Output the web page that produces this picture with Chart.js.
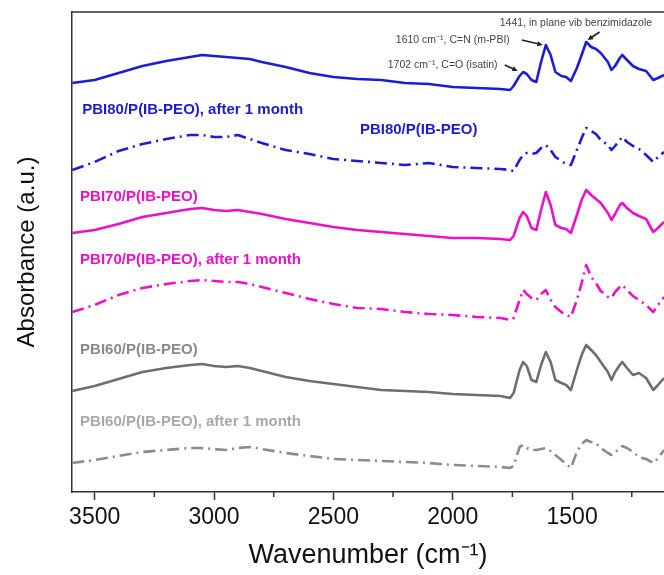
<!DOCTYPE html>
<html>
<head>
<meta charset="utf-8">
<script src="https://cdn.jsdelivr.net/npm/chart.js@4/dist/chart.umd.min.js"></script>
<style>
  body { margin: 0; background: #fff; }
  #wrap { width: 664px; height: 575px; position: relative; }
</style>
</head>
<body>
<div id="wrap"><canvas id="ftirChart"></canvas></div>
<script>
// wavenumbers (cm-1), shared by all six spectra
const wavenumbers = [3594, 3500, 3400, 3300, 3200, 3100, 3050, 3000, 2950, 2900,
  2850, 2800, 2700, 2600, 2500, 2400, 2300, 2200, 2100, 2000,
  1900, 1800, 1760, 1745, 1720, 1705, 1690, 1670, 1650, 1630,
  1610, 1590, 1570, 1545, 1525, 1505, 1480, 1460, 1441, 1420,
  1400, 1380, 1350, 1335, 1320, 1300, 1290, 1270, 1245, 1220,
  1190, 1160, 1140, 1115];

// absorbance (a.u., stacked)
const pbi80 = [409, 412, 419, 426, 431, 435, 437, 436, 435, 434,
  433, 430, 425, 419, 415, 413, 412, 409, 408, 405,
  404, 403, 402, 406, 416, 420, 418, 412, 410, 430,
  447, 437, 420, 416, 415, 411, 424, 437, 450, 445,
  443, 439, 430, 422, 426, 434, 437, 432, 426, 423,
  421, 412, 414, 417];
const pbi80Aged = [322, 330, 341, 348, 353, 357, 357, 355, 355, 357,
  353, 349, 342, 338, 333, 331, 329, 327, 329, 325,
  324, 323, 322, 321, 332, 337, 339, 338, 339, 344,
  347, 342, 335, 331, 328, 327, 342, 354, 364, 361,
  358, 352, 347, 342, 346, 352, 355, 350, 346, 343,
  337, 330, 335, 340];
const pbi70 = [259, 262, 268, 275, 279, 283, 284, 282, 281, 282,
  280, 278, 273, 269, 265, 262, 260, 258, 256, 254,
  254, 253, 252, 256, 274, 280, 276, 264, 262, 282,
  300, 287, 267, 264, 263, 259, 277, 292, 302, 297,
  293, 289, 279, 272, 278, 287, 289, 284, 279, 276,
  273, 260, 264, 270];
const pbi70Aged = [180, 187, 197, 204, 208, 211, 212, 211, 210, 210,
  208, 205, 199, 193, 188, 184, 183, 180, 178, 177,
  175, 174, 172, 174, 192, 202, 198, 194, 192, 198,
  202, 192, 185, 180, 177, 175, 192, 209, 227, 215,
  209, 201, 195, 194, 200, 205, 207, 202, 196, 192,
  187, 180, 187, 195];
const pbi60 = [101, 106, 113, 120, 124, 127, 128, 126, 125, 126,
  124, 121, 115, 111, 108, 105, 102, 101, 100, 98,
  97, 96, 94, 99, 122, 130, 126, 112, 110, 127,
  140, 130, 112, 109, 107, 102, 122, 137, 147, 142,
  137, 130, 120, 112, 120, 127, 130, 124, 117, 119,
  114, 102, 107, 114];
const pbi60Aged = [29, 32, 36, 40, 42, 44, 44, 43, 42, 44,
  45, 43, 39, 36, 33, 32, 31, 30, 29, 27,
  26, 25, 24, 26, 45, 47, 44, 42, 42, 43,
  44, 41, 37, 32, 28, 24, 40, 48, 52, 50,
  49, 44, 39, 37, 40, 43, 46, 44, 40, 35,
  33, 29, 34, 42];

const seriesNames = ['PBI80/P(IB-PEO)', 'PBI80/P(IB-PEO), after 1 month',
  'PBI70/P(IB-PEO)', 'PBI70/P(IB-PEO), after 1 month',
  'PBI60/P(IB-PEO)', 'PBI60/P(IB-PEO), after 1 month'];
const seriesValues = [pbi80, pbi80Aged, pbi70, pbi70Aged, pbi60, pbi60Aged];

const majorTicks = [3500, 3000, 2500, 2000, 1500];
const minorTicks = [3250, 2750, 2250, 1750, 1250];

const BLUE = '#1c1cd8';
const MAGENTA = '#ee10c8';
const GREY = '#6e6e6e';
const LIGHTGREY = '#8c8c8c';
const colors = [BLUE, BLUE, MAGENTA, MAGENTA, GREY, LIGHTGREY];
const dashDot = [12, 5, 2, 5];

// series captions, anchored in data units (wavenumber, a.u.)
const captions = [
  { text: seriesNames[1], x: 3552, y: 382, color: BLUE },
  { text: seriesNames[0], x: 2389, y: 362, color: BLUE },
  { text: seriesNames[2], x: 3561, y: 295, color: MAGENTA },
  { text: seriesNames[3], x: 3561, y: 232, color: MAGENTA },
  { text: seriesNames[4], x: 3561, y: 142, color: '#8a8a8a' },
  { text: seriesNames[5], x: 3561, y: 70, color: '#a8a8a8' },
];
const notes = [
  { text: '1441, in plane vib benzimidazole', x: 1803, y: 469, align: 'left' },
  { text: '1610 cm\u207B\u00B9, C=N (m-PBI)', x: 1761, y: 452, align: 'right' },
  { text: '1702 cm\u207B\u00B9, C=O (isatin)', x: 1812, y: 427, align: 'right' },
];
const arrows = [
  [1782, 427, 1728, 421],
  [1711, 452, 1623, 447],
  [1385, 460, 1435, 452],
];

const datasets = seriesValues.map((vals, i) => ({
  label: seriesNames[i],
  data: wavenumbers.map((w, j) => ({ x: w, y: vals[j] })),
  borderColor: colors[i],
  borderWidth: 2.6,
  borderDash: i % 2 === 1 ? dashDot : [],
  pointRadius: 0,
  tension: 0,
  borderJoinStyle: 'round',
  fill: false,
}));

const FONT = "'Liberation Sans', Arial, sans-serif";

const decorations = {
  id: 'decorations',
  afterDraw(chart) {
    const { ctx, chartArea, scales: { x, y } } = chart;
    ctx.save();
    // top frame line
    ctx.strokeStyle = '#333';
    ctx.lineWidth = 1.5;
    ctx.beginPath();
    ctx.moveTo(chartArea.left, chartArea.top);
    ctx.lineTo(chartArea.right, chartArea.top);
    ctx.stroke();
    // minor ticks
    minorTicks.forEach(v => {
      const px = x.getPixelForValue(v);
      ctx.beginPath();
      ctx.moveTo(px, chartArea.bottom);
      ctx.lineTo(px, chartArea.bottom + 5);
      ctx.stroke();
    });
    // captions
    ctx.textBaseline = 'middle';
    ctx.font = 'bold 15px ' + FONT;
    captions.forEach(c => {
      ctx.fillStyle = c.color;
      ctx.textAlign = 'left';
      ctx.fillText(c.text, x.getPixelForValue(c.x), y.getPixelForValue(c.y));
    });
    ctx.font = '10.5px ' + FONT;
    ctx.fillStyle = '#444';
    notes.forEach(n => {
      ctx.textAlign = n.align;
      ctx.fillText(n.text, x.getPixelForValue(n.x), y.getPixelForValue(n.y));
    });
    // arrows
    ctx.strokeStyle = '#222';
    ctx.fillStyle = '#222';
    ctx.lineWidth = 1.6;
    arrows.forEach(a => {
      const x1 = x.getPixelForValue(a[0]), y1 = y.getPixelForValue(a[1]);
      const x2 = x.getPixelForValue(a[2]), y2 = y.getPixelForValue(a[3]);
      const ang = Math.atan2(y2 - y1, x2 - x1);
      ctx.beginPath();
      ctx.moveTo(x1, y1);
      ctx.lineTo(x2 - 4 * Math.cos(ang), y2 - 4 * Math.sin(ang));
      ctx.stroke();
      ctx.beginPath();
      ctx.moveTo(x2, y2);
      ctx.lineTo(x2 - 6 * Math.cos(ang - 0.45), y2 - 6 * Math.sin(ang - 0.45));
      ctx.lineTo(x2 - 6 * Math.cos(ang + 0.45), y2 - 6 * Math.sin(ang + 0.45));
      ctx.closePath();
      ctx.fill();
    });
    ctx.restore();
  },
};

new Chart(document.getElementById('ftirChart'), {
  type: 'line',
  data: { datasets },
  options: {
    responsive: true,
    maintainAspectRatio: false,
    animation: false,
    layout: { padding: { top: 12, right: 0, bottom: 0, left: 0 } },
    plugins: { legend: { display: false }, tooltip: { enabled: false } },
    scales: {
      x: {
        type: 'linear',
        reverse: true,
        min: 1115,
        max: 3595,
        afterBuildTicks: s => { s.ticks = majorTicks.map(v => ({ value: v })); },
        afterFit: s => { s.height = 83; },
        ticks: {
          color: '#111',
          font: { family: FONT, size: 23 },
          padding: 4,
          maxRotation: 0,
          callback: v => String(v),
        },
        grid: { drawOnChartArea: false, drawTicks: true, tickLength: 8, tickColor: '#333', tickWidth: 1.5 },
        border: { display: true, color: '#333', width: 1.5 },
        title: {
          display: true,
          text: 'Wavenumber (cm\u207B\u00B9)',
          color: '#111',
          font: { family: FONT, size: 27 },
          padding: { top: 3, bottom: 3 },
        },
      },
      y: {
        type: 'linear',
        min: 0,
        max: 480,
        afterFit: s => { s.width = 72; },
        ticks: { display: false },
        grid: { drawOnChartArea: false, drawTicks: false },
        border: { display: true, color: '#333', width: 1.5 },
        title: {
          display: true,
          text: 'Absorbance (a.u.)',
          color: '#111',
          font: { family: FONT, size: 24 },
          padding: { top: 13, bottom: 0 },
        },
      },
    },
  },
  plugins: [decorations],
});
</script>
</body>
</html>
